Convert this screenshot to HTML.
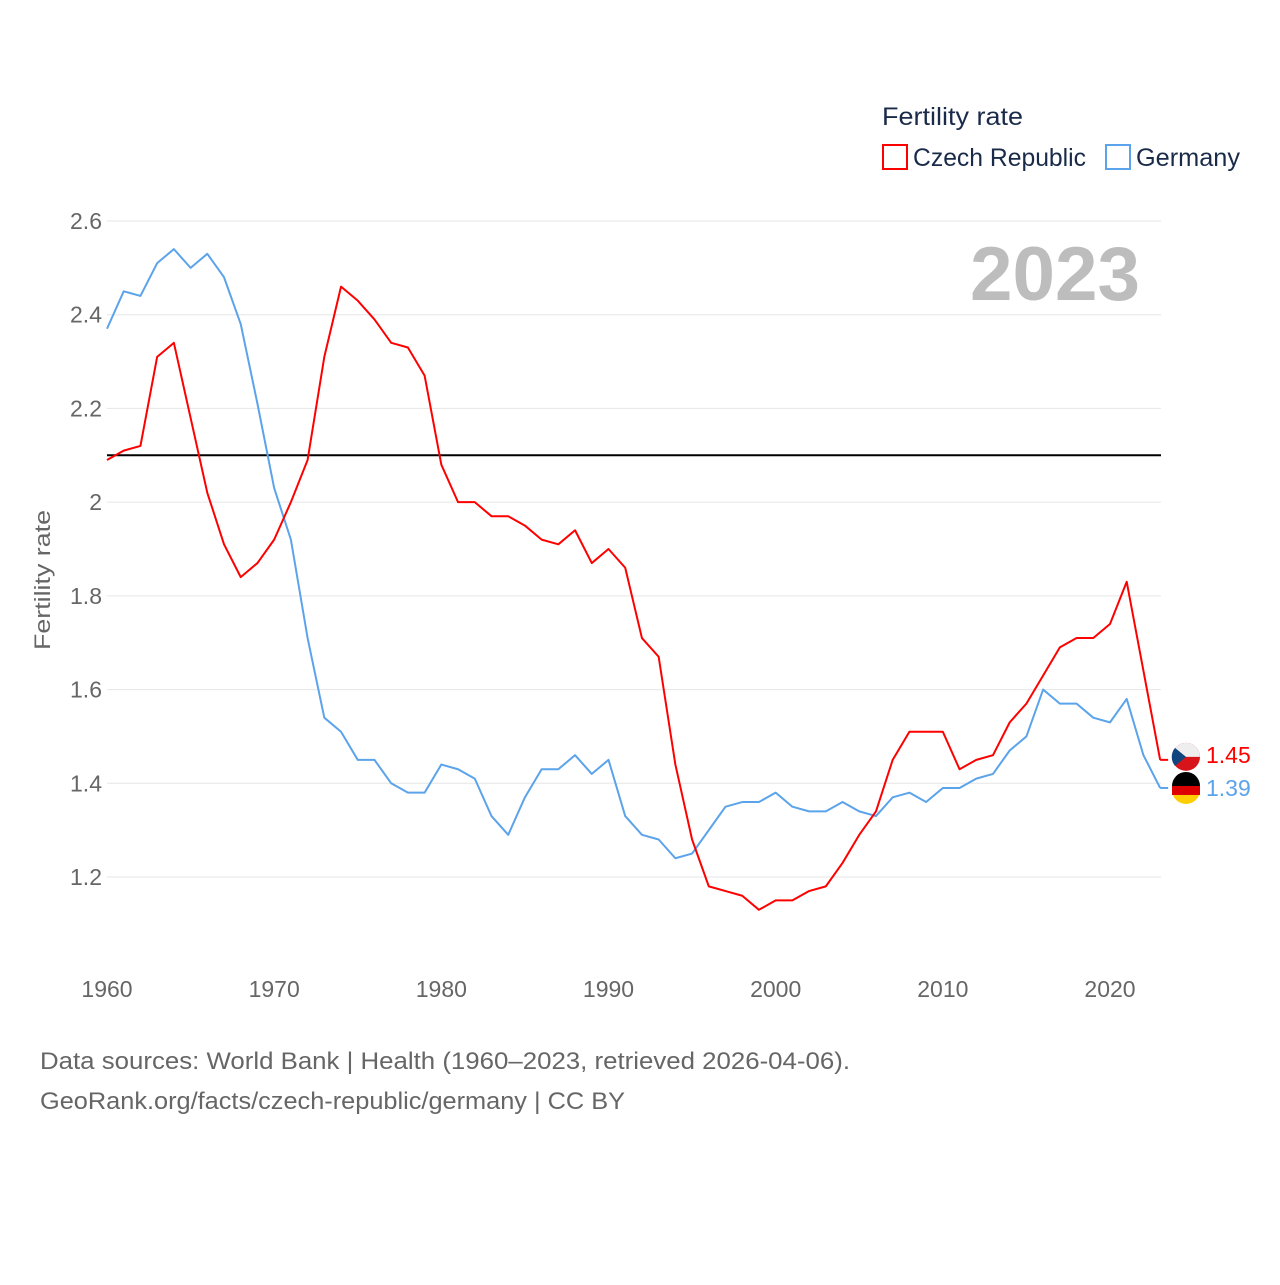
<!DOCTYPE html>
<html><head><meta charset="utf-8"><style>
body{margin:0;background:#fff;font-family:"Liberation Sans",sans-serif}
svg text{font-family:"Liberation Sans",sans-serif}
</style></head><body>
<svg id="chart" width="1280" height="1280" viewBox="0 0 1280 1280" xmlns="http://www.w3.org/2000/svg">
<rect width="1280" height="1280" fill="#fff"/>
<g id="grid"></g>
<g id="lines"></g>
<text x="970" y="300" font-size="76" font-weight="bold" fill="#bdbdbd" textLength="170" lengthAdjust="spacingAndGlyphs">2023</text>
<text x="882" y="125" font-size="25" fill="#1a2b49" textLength="141" lengthAdjust="spacingAndGlyphs">Fertility rate</text>
<rect x="883" y="145" width="24" height="24" fill="none" stroke="#f00" stroke-width="2"/>
<text x="913" y="166" font-size="25" fill="#1a2b49" textLength="173" lengthAdjust="spacingAndGlyphs">Czech Republic</text>
<rect x="1106" y="145" width="24" height="24" fill="none" stroke="#5ba3ea" stroke-width="2"/>
<text x="1136" y="166" font-size="25" fill="#1a2b49" textLength="104" lengthAdjust="spacingAndGlyphs">Germany</text>
<text transform="translate(50,580) rotate(-90)" text-anchor="middle" font-size="22" fill="#666" textLength="140" lengthAdjust="spacingAndGlyphs">Fertility rate</text>
<text x="40" y="1069" font-size="24" fill="#666" textLength="810" lengthAdjust="spacingAndGlyphs">Data sources: World Bank | Health (1960–2023, retrieved 2026-04-06).</text>
<text x="40" y="1109" font-size="24" fill="#666" textLength="585" lengthAdjust="spacingAndGlyphs">GeoRank.org/facts/czech-republic/germany | CC BY</text>
</svg>
<script>
const years=[];for(let y=1960;y<=2023;y++)years.push(y);
const czech=[2.09,2.11,2.12,2.31,2.34,2.18,2.02,1.91,1.84,1.87,1.92,2.00,2.09,2.31,2.46,2.43,2.39,2.34,2.33,2.27,2.08,2.00,2.00,1.97,1.97,1.95,1.92,1.91,1.94,1.87,1.90,1.86,1.71,1.67,1.44,1.28,1.18,1.17,1.16,1.13,1.15,1.15,1.17,1.18,1.23,1.29,1.34,1.45,1.51,1.51,1.51,1.43,1.45,1.46,1.53,1.57,1.63,1.69,1.71,1.71,1.74,1.83,1.64,1.45];
const germany=[2.37,2.45,2.44,2.51,2.54,2.50,2.53,2.48,2.38,2.21,2.03,1.92,1.71,1.54,1.51,1.45,1.45,1.40,1.38,1.38,1.44,1.43,1.41,1.33,1.29,1.37,1.43,1.43,1.46,1.42,1.45,1.33,1.29,1.28,1.24,1.25,1.30,1.35,1.36,1.36,1.38,1.35,1.34,1.34,1.36,1.34,1.33,1.37,1.38,1.36,1.39,1.39,1.41,1.42,1.47,1.50,1.60,1.57,1.57,1.54,1.53,1.58,1.46,1.39];
const yTicks=[2.6,2.4,2.2,2,1.8,1.6,1.4,1.2];
const xTicks=[1960,1970,1980,1990,2000,2010,2020];
const replacement=[2.1];
const NS="http://www.w3.org/2000/svg";
const X=y=>107+(y-1960)*(1110-107)/60;
const Y=v=>221+(2.6-v)*(877-221)/1.4;
const grid=document.getElementById('grid'),lines=document.getElementById('lines');
function mk(t,a,p){const e=document.createElementNS(NS,t);for(const k in a)e.setAttribute(k,a[k]);p.appendChild(e);return e;}
yTicks.forEach(v=>{
 const l=mk('line',{x1:107,x2:1161,y1:Y(v),y2:Y(v),stroke:'#e6e6e6','stroke-width':1},grid);
 
 
 const t=mk('text',{x:102,y:Y(v)+8,'text-anchor':'end','font-size':23,fill:'#666'},grid);
 t.textContent=String(v);
 
 
});
xTicks.forEach(v=>{
 const t=mk('text',{x:X(v),y:997,'text-anchor':'middle','font-size':23,fill:'#666'},grid);
 t.textContent=String(v);
 
 
});
replacement.forEach(v=>{
 const l=mk('line',{x1:107,x2:1161,y1:Y(v),y2:Y(v),stroke:'#000','stroke-width':2},lines);
 
 
});
function series(d,c,n){
 const p=mk('polyline',{points:d.map((v,i)=>X(years[i])+','+Y(v)).join(' '),fill:'none',stroke:c,'stroke-width':2,'stroke-linejoin':'round'},lines);
 
 
}
series(germany,'#5ba3ea','germany');
series(czech,'#f00','czech');
function endLabel(d,c,n,dy){
 const v=d[d.length-1],x=X(years[years.length-1]),y=Y(v)+dy;
 const s=mk('line',{x1:x,x2:x+8,y1:Y(v),y2:Y(v),stroke:c,'stroke-width':2},lines);
 
 
 const f=mk('circle',{cx:1186,cy:y,r:14,fill:n==='czech'?'#d7141a':'#ffce00'},lines);
 
 
 if(n==='czech'){
  const a=mk('path',{d:`M1172 ${y} A14 14 0 0 1 1200 ${y} Z`,fill:'#eee'},lines);
  
  const b=mk('path',{d:`M1175 ${y-9} L1186 ${y} L1175 ${y+9} A14 14 0 0 1 1175 ${y-9} Z`,fill:'#11457e'},lines);
  
 }else{
  const a=mk('path',{d:`M1172 ${y-4} A14 14 0 0 1 1200 ${y-4} Z`,fill:'#000'},lines);
  
  const b=mk('rect',{x:1172,y:y-4,width:28,height:9,fill:'#dd0000'},lines);
  
 }
 const t=mk('text',{x:1206,y:y+6,'font-size':23,fill:c},lines);
 t.textContent=v.toFixed(2);
 
 
}
endLabel(czech,'#f00','czech',-3);
endLabel(germany,'#5ba3ea','germany',2);
</script>
</body></html>
